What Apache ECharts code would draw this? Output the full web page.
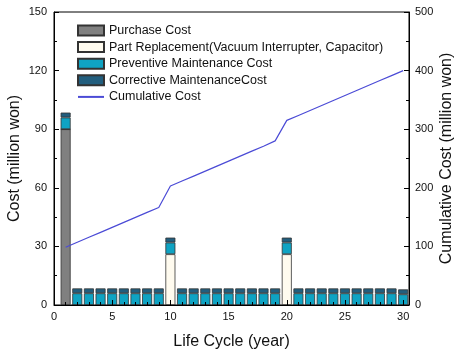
<!DOCTYPE html>
<html>
<head>
<meta charset="utf-8">
<script src="https://cdn.jsdelivr.net/npm/echarts@6/dist/echarts.min.js"></script>
<style>html,body{margin:0;padding:0;background:#fff}#c{width:458px;height:355px}</style>
</head>
<body>
<div id="c"></div>
<script>
var years = [1,2,3,4,5,6,7,8,9,10,11,12,13,14,15,16,17,18,19,20,21,22,23,24,25,26,27,28,29,30];
var purchaseCost = [90,0,0,0,0,0,0,0,0,0,0,0,0,0,0,0,0,0,0,0,0,0,0,0,0,0,0,0,0,0];
var partReplacement = [0,0,0,0,0,0,0,0,0,26,0,0,0,0,0,0,0,0,0,26,0,0,0,0,0,0,0,0,0,0];
var preventiveCost = [6,6,6,6,6,6,6,6,6,6,6,6,6,6,6,6,6,6,6,6,6,6,6,6,6,6,6,6,6,5.5];
var correctiveCost = [2.5,2.5,2.5,2.5,2.5,2.5,2.5,2.5,2.5,2.5,2.5,2.5,2.5,2.5,2.5,2.5,2.5,2.5,2.5,2.5,2.5,2.5,2.5,2.5,2.5,2.5,2.5,2.5,2.5,2.5];
var cumulativeCost = [98.5,107,115.5,124,132.5,141,149.5,158,166.5,203,211.5,220,228.5,237,245.5,254,262.5,271,280,315,323.5,332,340.5,349,357.5,366,374.5,383,391.5,400];
var xMax = 30.5;

// half-year category slots from 0 to xMax so the hidden category axis lines up with the value axis
var slots = [];
for (var s = 0; s <= xMax * 2; s++) slots.push(String(s / 2));
function slotData(arr){
  var out = slots.map(function(){ return null; });
  years.forEach(function(y, i){ out[y * 2] = arr[i]; });
  return out;
}
function pairs(arr){ return years.map(function(y,i){ return [y, arr[i]]; }); }

var font = 'Liberation Sans, Arial, sans-serif';
var chart = echarts.init(document.getElementById('c'));
function barSeries(name, data, color){
  return {
    name: name, type: 'bar', stack: 'cost', xAxisIndex: 1, data: slotData(data),
    barWidth: 10,
    itemStyle: { color: color, borderColor: '#333', borderWidth: 0.8 },
    emphasis: { disabled: true }
  };
}
chart.setOption({
  animation: false,
  textStyle: { fontFamily: font },
  grid: { left: 54, right: 49, top: 12, bottom: 50, show: true, borderColor: '#000', borderWidth: 1,
          containLabel: false, outerBoundsMode: 'none' },
  legend: {
    orient: 'vertical', left: 77, top: 24, padding: 0,
    itemWidth: 26, itemHeight: 10, itemGap: 3.6,
    textStyle: { fontFamily: font, fontSize: 12.5, color: '#111', lineHeight: 12 },
    data: [
      { name: 'Purchase Cost', icon: 'rect' },
      { name: 'Part Replacement(Vacuum Interrupter, Capacitor)', icon: 'rect' },
      { name: 'Preventive Maintenance Cost', icon: 'rect' },
      { name: 'Corrective MaintenanceCost', icon: 'rect' },
      { name: 'Cumulative Cost' }
    ]
  },
  xAxis: [{
    type: 'value', min: 0, max: xMax, interval: 5, z: 5,
    name: 'Life Cycle (year)', nameLocation: 'middle', nameGap: 29, nameMoveOverlap: false,
    nameTextStyle: { fontFamily: font, fontSize: 16, color: '#111' },
    axisLine: { show: true, lineStyle: { color: '#000' } },
    axisTick: { show: true, inside: true, length: 5, lineStyle: { color: '#000' } },
    minorTick: { show: true, splitNumber: 5, length: 3, lineStyle: { color: '#000' } },
    splitLine: { show: false },
    axisLabel: { fontFamily: font, fontSize: 11, color: '#111', margin: 6,
      formatter: function(v){ return (v % 5 === 0) ? String(v) : ''; } }
  }, {
    type: 'category', data: slots, boundaryGap: false, show: false, position: 'bottom'
  }],
  yAxis: [{
    type: 'value', min: 0, max: 150, interval: 30,
    name: 'Cost (million won)', nameLocation: 'middle', nameGap: 31, nameMoveOverlap: false,
    nameTextStyle: { fontFamily: font, fontSize: 16, color: '#111' },
    axisLine: { show: true, lineStyle: { color: '#000' } },
    axisTick: { show: true, inside: true, length: 5, lineStyle: { color: '#000' } },
    minorTick: { show: true, splitNumber: 2, length: 3, lineStyle: { color: '#000' } },
    splitLine: { show: false },
    axisLabel: { fontFamily: font, fontSize: 11, color: '#111', margin: 7 }
  }, {
    type: 'value', min: 0, max: 500, interval: 100, position: 'right',
    name: 'Cumulative Cost (million won)', nameLocation: 'middle', nameGap: 30, nameMoveOverlap: false,
    nameTextStyle: { fontFamily: font, fontSize: 16, color: '#111' },
    axisLine: { show: true, lineStyle: { color: '#000' } },
    axisTick: { show: true, inside: true, length: 5, lineStyle: { color: '#000' } },
    minorTick: { show: true, splitNumber: 2, length: 3, lineStyle: { color: '#000' } },
    splitLine: { show: false },
    axisLabel: { fontFamily: font, fontSize: 11, color: '#111', margin: 6 }
  }],
  series: [
    barSeries('Purchase Cost', purchaseCost, '#808080'),
    barSeries('Part Replacement(Vacuum Interrupter, Capacitor)', partReplacement, '#FFFBEF'),
    barSeries('Preventive Maintenance Cost', preventiveCost, '#0FA3C3'),
    barSeries('Corrective MaintenanceCost', correctiveCost, '#225E7E'),
    {
      name: 'Cumulative Cost', type: 'line', xAxisIndex: 0, yAxisIndex: 1, data: pairs(cumulativeCost),
      symbol: 'none', lineStyle: { color: '#4B4BD6', width: 1.2 },
      itemStyle: { color: 'rgba(0,0,0,0)' }, z: 5
    }
  ]
});
</script>
</body>
</html>
